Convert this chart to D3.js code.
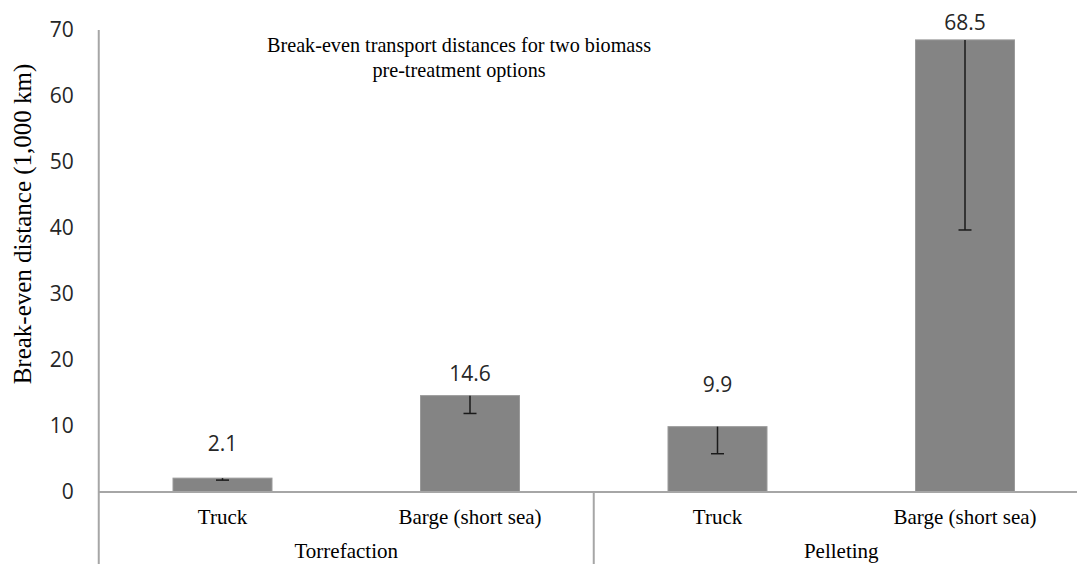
<!DOCTYPE html>
<html>
<head>
<meta charset="utf-8">
<script src="https://cdn.jsdelivr.net/npm/d3@7"></script>
<style>
  body { margin: 0; background: #fff; }
  svg { display: block; }
  .tick text { font-family: "Open Sans", "Noto Sans", sans-serif; }
</style>
</head>
<body>
<div id="chart"></div>
<script>
// data
const groups = ["Torrefaction", "Pelleting"];
const modes = ["Truck", "Barge (short sea)", "Truck", "Barge (short sea)"];
const modeGroup = [0, 0, 1, 1];
const distances = [2.1, 14.6, 9.9, 68.5];
const lowerBounds = [1.8, 11.9, 5.8, 39.7];
const yTicks = [0, 10, 20, 30, 40, 50, 60, 70];

// how far (px) each value label's baseline sits above its bar
const labelLift = [27, 15, 35, 10];

let W = 1077, H = 564;
let plotLeft = 98.75, plotRight = 1088.75, plotTop = 30, base = 492;

let svg = d3.select("#chart")
  .append("svg")
    .attr("width", W)
    .attr("height", H);

let x = d3.scaleBand()
  .domain(d3.range(modes.length))
  .range([plotLeft, plotRight])
  .paddingInner(0.6)
  .paddingOuter(0.3);

let y = d3.scaleLinear()
  .domain([0, 70])
  .range([base, plotTop]);

let axisColor = "#a6a6a6";

// Y axis (labels only, line drawn below)
let yAxis = d3.axisLeft(y)
  .tickValues(yTicks)
  .tickSize(0)
  .tickPadding(25);

svg.append("g")
  .attr("transform", "translate(" + plotLeft + ",0)")
  .call(yAxis)
  .call(g => g.select(".domain").remove())
  .selectAll("text")
    .style("font-size", "21px")
    .attr("fill", "#262626");

// bars
svg.selectAll("rect.bar")
  .data(distances)
  .enter()
  .append("rect")
    .attr("class", "bar")
    .attr("x", (d, i) => x(i))
    .attr("y", d => y(d))
    .attr("width", x.bandwidth())
    .attr("height", d => base - y(d))
    .attr("fill", "#848484")
    .attr("stroke", "#9a9a9a")
    .attr("stroke-width", 1);

// error bars (minus only)
let errs = svg.append("g");
distances.forEach(function(d, i) {
  let cx = x(i) + x.bandwidth() / 2;
  errs.append("line")
    .attr("x1", cx).attr("x2", cx)
    .attr("y1", y(d)).attr("y2", y(lowerBounds[i]))
    .attr("stroke", "#1a1a1a").attr("stroke-width", 1.5);
  errs.append("line")
    .attr("x1", cx - 6.5).attr("x2", cx + 6.5)
    .attr("y1", y(lowerBounds[i])).attr("y2", y(lowerBounds[i]))
    .attr("stroke", "#1a1a1a").attr("stroke-width", 1.5);
});

// value labels
svg.selectAll("text.val")
  .data(distances)
  .enter()
  .append("text")
    .attr("class", "val")
    .attr("x", (d, i) => x(i) + x.bandwidth() / 2)
    .attr("y", (d, i) => y(d) - labelLift[i])
    .attr("text-anchor", "middle")
    .style("font-family", "'Open Sans', 'Noto Sans', sans-serif")
    .style("font-size", "21px")
    .attr("fill", "#262626")
    .text(d => d.toFixed(1));

// axis lines
svg.append("line")
  .attr("x1", plotLeft).attr("x2", plotRight)
  .attr("y1", base).attr("y2", base)
  .attr("stroke", axisColor).attr("stroke-width", 2);

svg.append("line")
  .attr("x1", plotLeft).attr("x2", plotLeft)
  .attr("y1", plotTop).attr("y2", H)
  .attr("stroke", axisColor).attr("stroke-width", 2);

// category axis
let xAxis = d3.axisBottom(x)
  .tickSize(0)
  .tickPadding(17)
  .tickFormat(i => modes[i]);

svg.append("g")
  .attr("transform", "translate(0," + base + ")")
  .call(xAxis)
  .call(g => g.select(".domain").remove())
  .selectAll("text")
    .style("font-family", "'Liberation Serif', 'Times New Roman', serif")
    .style("font-size", "21px")
    .attr("fill", "#000");

// group labels and separators
let step = x.step();
groups.forEach(function(gname, gi) {
  let idx = modeGroup.map((g, i) => g === gi ? i : -1).filter(i => i >= 0);
  let x0 = x(idx[0]) - step * 0.3;
  let x1 = x(idx[idx.length - 1]) + x.bandwidth() + step * 0.3;
  svg.append("text")
    .attr("x", (x0 + x1) / 2)
    .attr("y", 558)
    .attr("text-anchor", "middle")
    .style("font-family", "'Liberation Serif', 'Times New Roman', serif")
    .style("font-size", "21px")
    .text(gname);
  if (gi > 0) {
    svg.append("line")
      .attr("x1", x0).attr("x2", x0)
      .attr("y1", base).attr("y2", H)
      .attr("stroke", axisColor).attr("stroke-width", 2);
  }
});

// title inside plot
let title = svg.append("text")
  .attr("text-anchor", "middle")
  .style("font-family", "'Liberation Serif', 'Times New Roman', serif")
  .style("font-size", "20.2px")
  .attr("fill", "#000");
title.append("tspan").attr("x", 459).attr("y", 52)
  .text("Break-even transport distances for two biomass");
title.append("tspan").attr("x", 459).attr("y", 77)
  .text("pre-treatment options");

// y axis title
svg.append("text")
  .attr("transform", "translate(31,224) rotate(-90)")
  .attr("text-anchor", "middle")
  .style("font-family", "'Liberation Serif', 'Times New Roman', serif")
  .style("font-size", "25px")
  .text("Break-even distance (1,000 km)");
</script>
</body>
</html>
